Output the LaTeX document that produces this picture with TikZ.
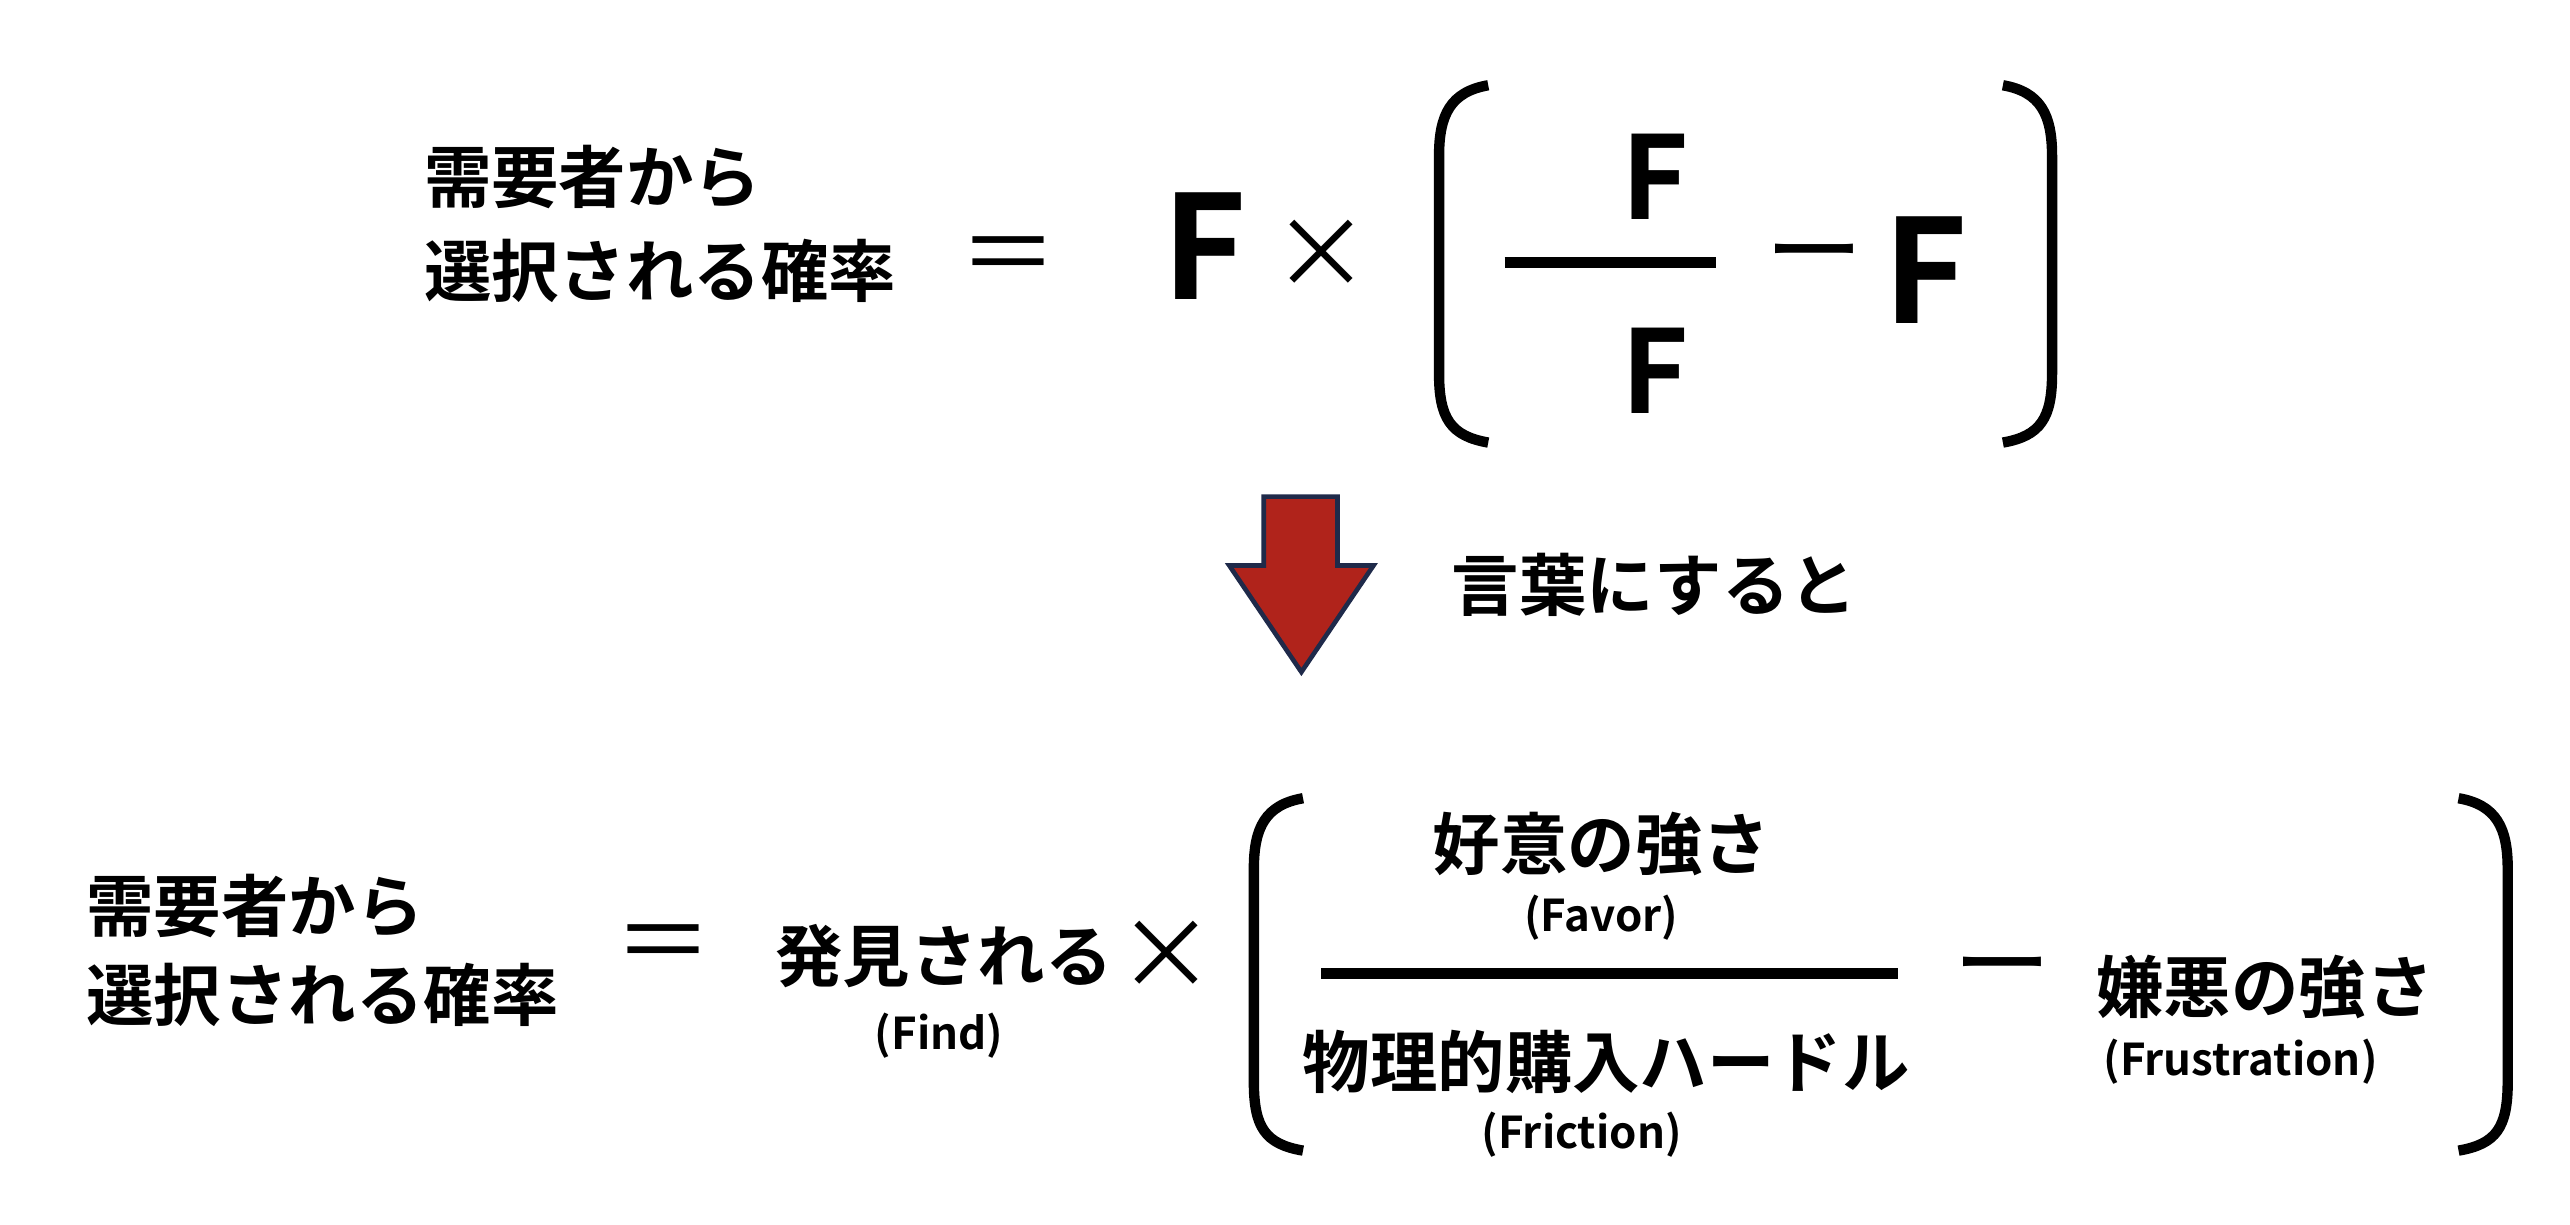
\documentclass[tikz,border=0pt]{standalone}
\usepackage{fontspec}
\setmainfont{Noto Sans CJK JP}[BoldFont={Noto Sans CJK JP Bold}]
\definecolor{arr}{HTML}{B0231B}
\definecolor{arrb}{HTML}{1F2A4A}
\begin{document}
\begin{tikzpicture}[x=0.01cm,y=-0.01cm,
  jp/.style={font=\fontsize{11.7}{14}\selectfont\bfseries,inner sep=0pt},
  op/.style={font=\fontsize{17}{20}\selectfont,inner sep=0pt},
  sm/.style={font=\fontsize{7.6}{9}\selectfont\bfseries,inner sep=0pt},
  bigF/.style={font=\fontsize{25}{30}\selectfont\bfseries,inner sep=0pt},
  midF/.style={font=\fontsize{20}{24}\selectfont\bfseries,inner sep=0pt},
  par/.style={line width=1.8pt},
  bar/.style={line width=2pt}]
\useasboundingbox (0,0) rectangle (1568,747);
% top
\node[jp,anchor=west] (t1) at (258,108) {需要者から};
\node[jp,anchor=west] (t2) at (258,165) {選択される確率};
\node[op] (teq) at (615,160) {＝};
\node[bigF] (tF1) at (735,150) {F};
\node[op] (tx) at (806,155) {×};
\draw[par] (908,52) .. controls (885,56) and (878,70) .. (878,95) -- (878,228) .. controls (878,255) and (885,266) .. (908,270);
\node[midF] (tF2) at (1010,108) {F};
\draw[bar] (918,160) -- (1047,160);
\node[midF] (tF3) at (1010,226) {F};
\node[op] (tm) at (1107,162) {ー};
\node[bigF] (tF4) at (1175,165) {F};
\draw[par] (1222,52) .. controls (1245,56) and (1252,70) .. (1252,95) -- (1252,228) .. controls (1252,255) and (1245,266) .. (1222,270);
% arrow
\draw[fill=arr, draw=arrb, line width=0.8pt]
  (771,303) -- (816,303) -- (816,345) -- (838,345) -- (794,410) -- (750,345) -- (771,345) -- cycle;
\node[jp,anchor=west] (w) at (885,357) {言葉にすると};
% bottom
\node[jp,anchor=west] (b1) at (52,553) {需要者から};
\node[jp,anchor=west] (b2) at (52,607) {選択される確率};
\node[op] (beq) at (405,580) {＝};
\node[jp] (find) at (576,583) {発見される};
\node[sm] (findl) at (573,632) {(Find)};
\node[op] (bx) at (712,583) {×};
\draw[par] (795,487) .. controls (772,491) and (765,505) .. (765,530) -- (765,660) .. controls (765,688) and (772,698) .. (795,702);
\node[jp] (fav) at (977,515) {好意の強さ};
\node[sm] (favl) at (977,560) {(Favor)};
\draw[bar] (806,594) -- (1158,594);
\node[jp] (fri) at (980,648) {物理的購入ハードル};
\node[sm] (fril) at (965,692) {(Friction)};
\node[op] (bm) at (1222,597) {ー};
\node[jp] (fru) at (1382,602) {嫌悪の強さ};
\node[sm] (frul) at (1367,648) {(Frustration)};
\draw[par] (1500,487) .. controls (1523,491) and (1530,505) .. (1530,530) -- (1530,660) .. controls (1530,688) and (1523,698) .. (1500,702);
\end{tikzpicture}
\end{document}
